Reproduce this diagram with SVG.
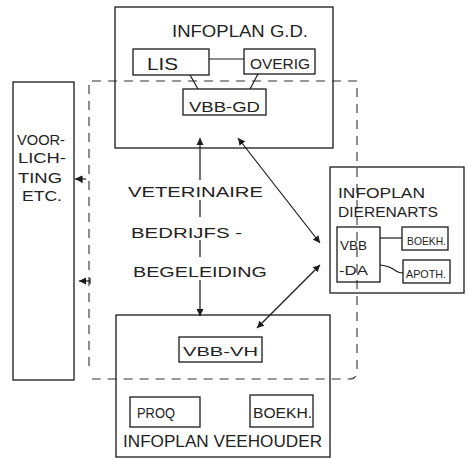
<svg xmlns="http://www.w3.org/2000/svg" width="466" height="458" viewBox="0 0 466 458">
<defs>
<style>
.box{fill:none;stroke:#1a1a1a;stroke-width:1.3}
.ln{fill:none;stroke:#1a1a1a;stroke-width:1.2}
.dash{fill:none;stroke:#333;stroke-width:1.1;stroke-dasharray:9 7}
text{font-family:"Liberation Sans",Arial,sans-serif;fill:#222;lengthAdjust:spacingAndGlyphs}
</style>
<marker id="ah" viewBox="0 0 8 8" refX="7" refY="4" markerWidth="8" markerHeight="8" markerUnits="userSpaceOnUse" orient="auto-start-reverse">
<path d="M0,0.5 L7,4 L0,7.5 Z" fill="#1a1a1a"/>
</marker>
</defs>
<rect width="466" height="458" fill="#fff"/>

<g id="region">
<path class="dash" d="M89,366 L89,81 L357,81 L357,371 Q357,379 349,379 L92,379"/>
</g>

<g id="infoplan-gd">
<rect class="box" x="115" y="7" width="218" height="141"/>
<text x="172" y="37" font-size="16" textLength="136" lengthAdjust="spacingAndGlyphs">INFOPLAN G.D.</text>
</g>
<g id="lis">
<rect class="box" x="133" y="49" width="76" height="26"/>
<text x="147" y="70" font-size="17" textLength="31" lengthAdjust="spacingAndGlyphs">LIS</text>
</g>
<g id="overig">
<rect class="box" x="244" y="49" width="71" height="25"/>
<text x="250" y="69" font-size="15" textLength="60" lengthAdjust="spacingAndGlyphs">OVERIG</text>
</g>
<g id="vbb-gd">
<rect class="box" x="183" y="89" width="83" height="26"/>
<text x="189" y="112" font-size="15" textLength="71" lengthAdjust="spacingAndGlyphs">VBB-GD</text>
</g>

<g id="voorlichting">
<rect class="box" x="13" y="82" width="61" height="298"/>
<text x="17" y="145" font-size="14" textLength="48" lengthAdjust="spacingAndGlyphs">VOOR-</text>
<text x="18" y="163" font-size="14" textLength="48" lengthAdjust="spacingAndGlyphs">LICH-</text>
<text x="18" y="183" font-size="14" textLength="44" lengthAdjust="spacingAndGlyphs">TING</text>
<text x="22" y="201" font-size="14" textLength="40" lengthAdjust="spacingAndGlyphs">ETC.</text>
</g>

<g id="vbb-label">
<text x="128" y="197" font-size="15" textLength="135" lengthAdjust="spacingAndGlyphs">VETERINAIRE</text>
<text x="131" y="238" font-size="15" textLength="111" lengthAdjust="spacingAndGlyphs">BEDRIJFS -</text>
<text x="133" y="277" font-size="15" textLength="134" lengthAdjust="spacingAndGlyphs">BEGELEIDING</text>
</g>

<g id="infoplan-dierenarts">
<rect class="box" x="330" y="167" width="134" height="126"/>
<text x="338" y="198" font-size="15" textLength="87" lengthAdjust="spacingAndGlyphs">INFOPLAN</text>
<text x="338" y="217" font-size="14" textLength="100" lengthAdjust="spacingAndGlyphs">DIERENARTS</text>
</g>
<g id="vbb-da">
<rect class="box" x="337" y="227" width="43" height="55"/>
<text x="340" y="250" font-size="13" textLength="27" lengthAdjust="spacingAndGlyphs">VBB</text>
<text x="339" y="275" font-size="13" textLength="29" lengthAdjust="spacingAndGlyphs">-DA</text>
</g>
<g id="boekh-da">
<rect class="box" x="402" y="227" width="46" height="23"/>
<text x="407" y="245" font-size="11" textLength="39" lengthAdjust="spacingAndGlyphs">BOEKH.</text>
</g>
<g id="apoth">
<rect class="box" x="403" y="260" width="47" height="23"/>
<text x="406" y="278" font-size="11" textLength="40" lengthAdjust="spacingAndGlyphs">APOTH.</text>
</g>

<g id="infoplan-veehouder">
<rect class="box" x="116" y="315" width="214" height="142"/>
<text x="123" y="447" font-size="16" textLength="199" lengthAdjust="spacingAndGlyphs">INFOPLAN VEEHOUDER</text>
</g>
<g id="vbb-vh">
<rect class="box" x="179" y="337" width="83" height="25"/>
<text x="183" y="356" font-size="13" textLength="75" lengthAdjust="spacingAndGlyphs">VBB-VH</text>
</g>
<g id="proq">
<rect class="box" x="130" y="397" width="70" height="30"/>
<text x="137" y="418" font-size="14" textLength="38" lengthAdjust="spacingAndGlyphs">PROQ</text>
</g>
<g id="boekh-vh">
<rect class="box" x="250" y="395" width="63" height="32"/>
<text x="253" y="418" font-size="14" textLength="59" lengthAdjust="spacingAndGlyphs">BOEKH.</text>
</g>

<g id="connectors">
<line class="ln" x1="209" y1="59" x2="244" y2="59"/>
<line class="ln" x1="190" y1="75" x2="198" y2="89"/>
<line class="ln" x1="258" y1="74" x2="250" y2="89"/>
<line class="ln" x1="380" y1="238" x2="402" y2="238"/>
<path class="ln" d="M380,265 Q390,266 396,271 Q399,273 403,273"/>
<path class="ln" d="M200,138 L200,180 M200,200 L200,217 M200,240 L200,257 M200,280 L200,316" marker-start="url(#ah)" marker-end="url(#ah)"/>
<line class="ln" x1="238" y1="138" x2="320" y2="243" marker-start="url(#ah)" marker-end="url(#ah)"/>
<line class="ln" x1="320" y1="265" x2="257" y2="328" marker-start="url(#ah)" marker-end="url(#ah)"/>
<line class="ln" x1="86" y1="179" x2="75" y2="179" marker-end="url(#ah)"/>
<line class="ln" x1="82" y1="176" x2="82" y2="183"/>
<line class="ln" x1="90" y1="281" x2="79" y2="281" marker-end="url(#ah)"/>
<line class="ln" x1="90" y1="278" x2="90" y2="284"/>
</g>
</svg>
